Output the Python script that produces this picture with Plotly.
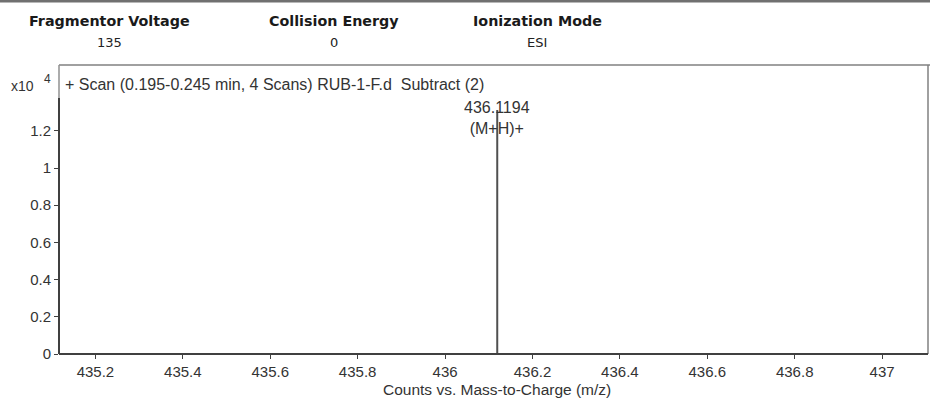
import plotly.graph_objects as go

# ---- data ----
peak_mz = [436.1194]
peak_counts = [13120]
peak_labels = ["436.1194<br>(M+H)+"]
x_tick_vals = [435.2, 435.4, 435.6, 435.8, 436.0, 436.2, 436.4, 436.6, 436.8, 437.0]
x_tick_text = ["435.2", "435.4", "435.6", "435.8", "436", "436.2", "436.4", "436.6", "436.8", "437"]
y_tick_vals = [0, 2000, 4000, 6000, 8000, 10000, 12000]
y_tick_text = ["0", "0.2", "0.4", "0.6", "0.8", "1", "1.2"]
header_names = ["Fragmentor Voltage", "Collision Energy", "Ionization Mode"]
header_values = ["135", "0", "ESI"]
scan_title = "+ Scan (0.195-0.245 min, 4 Scans) RUB-1-F.d  Subtract (2)"
x_title = "Counts vs. Mass-to-Charge (m/z)"

W, H = 930, 398
L, R, T, B = 59, 2, 65, 44
PW = W - L - R
PH = H - T - B


def px(xp):
    return (xp - L) / PW


def py(yp):
    return (H - B - yp) / PH


xs, ys = [], []
for m, c in zip(peak_mz, peak_counts):
    xs += [m, m, None]
    ys += [0, c, None]

fig = go.Figure()
fig.add_trace(go.Scatter(x=xs, y=ys, mode="lines",
                         line=dict(color="#505050", width=2),
                         hoverinfo="skip", showlegend=False))

SANS = "Liberation Sans, Arial, sans-serif"
font_tick = dict(family=SANS, size=15, color="#333333")
font_text = dict(family=SANS, size=16, color="#333333")

fig.update_layout(
    width=W, height=H,
    margin=dict(l=L, r=R, t=T, b=B),
    paper_bgcolor="white", plot_bgcolor="white",
    xaxis=dict(range=[435.1167, 437.105], tickvals=x_tick_vals, ticktext=x_tick_text,
               showgrid=False, zeroline=False, showline=False,
               ticks="outside", ticklen=4, tickwidth=1, tickcolor="#404040",
               tickfont=font_tick),
    yaxis=dict(range=[0, 15538], tickvals=y_tick_vals, ticktext=y_tick_text,
               showgrid=False, zeroline=False, showline=False,
               ticks="outside", ticklen=4, tickwidth=1, tickcolor="#404040",
               tickfont=font_tick),
    font=font_text,
)

shapes = []
# top header line
shapes.append(dict(type="line", xref="paper", yref="paper", x0=px(0), x1=px(W),
                   y0=py(1), y1=py(1), line=dict(color="#707070", width=3)))
# plot frame (thin)
shapes.append(dict(type="line", xref="paper", yref="paper", x0=0, x1=px(W),
                   y0=1, y1=1, line=dict(color="#808080", width=1.5)))
shapes.append(dict(type="line", xref="paper", yref="paper", x0=1, x1=1,
                   y0=0, y1=1, line=dict(color="#808080", width=1.5)))
shapes.append(dict(type="line", xref="paper", yref="paper", x0=0, x1=0,
                   y0=py(98), y1=1, line=dict(color="#909090", width=1.5)))
# thick axes
shapes.append(dict(type="line", xref="paper", yref="paper", x0=0, x1=0,
                   y0=0, y1=py(98), line=dict(color="#404040", width=2)))
shapes.append(dict(type="line", xref="paper", yref="paper", x0=0, x1=1,
                   y0=0, y1=0, line=dict(color="#404040", width=2)))
fig.update_layout(shapes=shapes)

ann = []
head_x = [109, 334, 537]
for name, val, hx in zip(header_names, header_values, head_x):
    ann.append(dict(xref="paper", yref="paper", x=px(hx), y=py(21), text="<b>" + name + "</b>",
                    showarrow=False, xanchor="center", yanchor="middle",
                    font=dict(family="DejaVu Sans, Verdana, sans-serif", size=14.3, color="#1a1a1a")))
    ann.append(dict(xref="paper", yref="paper", x=px(hx), y=py(43), text=val,
                    showarrow=False, xanchor="center", yanchor="middle",
                    font=dict(family="DejaVu Sans, Verdana, sans-serif", size=13, color="#222222")))
ann.append(dict(xref="paper", yref="paper", x=px(63), y=py(84), text=scan_title,
                showarrow=False, xanchor="left", yanchor="middle", font=font_text))
ann.append(dict(xref="paper", yref="paper", x=px(36), y=py(86), text="x10",
                showarrow=False, xanchor="right", yanchor="middle",
                font=dict(family=SANS, size=14, color="#333333")))
ann.append(dict(xref="paper", yref="paper", x=px(47), y=py(79), text="4",
                showarrow=False, xanchor="center", yanchor="middle",
                font=dict(family=SANS, size=12, color="#333333")))
ann.append(dict(xref="paper", yref="paper", x=px(497), y=py(389), text=x_title,
                showarrow=False, xanchor="center", yanchor="middle",
                font=dict(family=SANS, size=15.5, color="#333333")))
for m, c, lab in zip(peak_mz, peak_counts, peak_labels):
    ann.append(dict(x=m, y=c, xref="x", yref="y", text=lab, showarrow=False,
                    xanchor="center", yanchor="middle", yshift=-8, font=font_text))
fig.update_layout(annotations=ann)

fig.write_html("out.html")
